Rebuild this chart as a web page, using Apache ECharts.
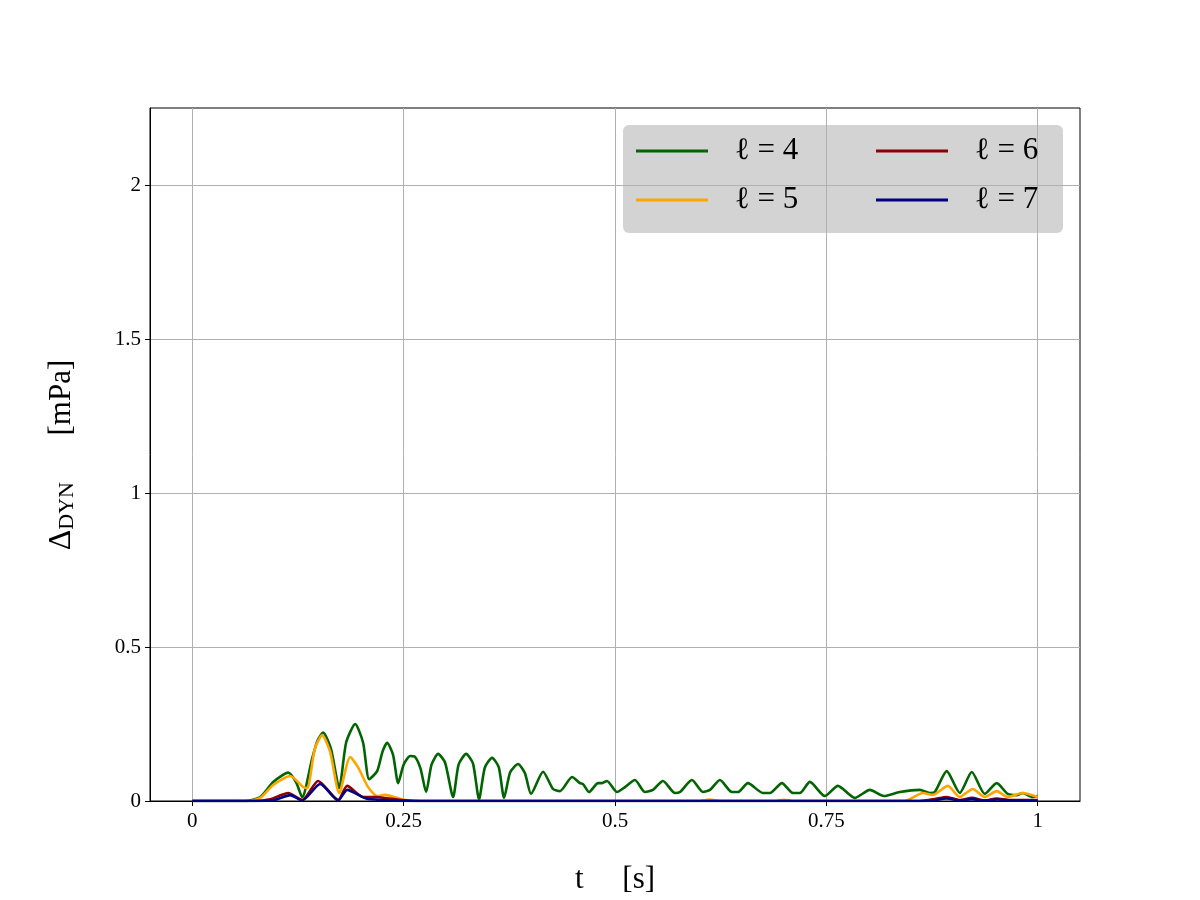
<!DOCTYPE html>
<html>
<head>
<meta charset="utf-8">
<title>Delta DYN</title>
<script src="https://cdn.jsdelivr.net/npm/echarts@6/dist/echarts.min.js"></script>
<style>
  html, body { margin: 0; padding: 0; background: #fff; }
  #chart { width: 1200px; height: 900px; }
</style>
</head>
<body>
<div id="chart"></div>
<script>
  // tick values
  const xTicks = [0, 0.25, 0.5, 0.75, 1]
  const yTicks = [0, 0.5, 1, 1.5, 2]

  // l = 4
  const t4 = [0, 0.0626, 0.0804, 0.0957, 0.1135, 0.123, 0.130, 0.142, 0.148, 0.1548, 0.164, 0.1738,
    0.182, 0.1927, 0.202, 0.2092, 0.2187, 0.225, 0.2305, 0.2375, 0.2435, 0.250, 0.2577, 0.2636, 0.270,
    0.2766, 0.283, 0.2908, 0.299, 0.3085, 0.315, 0.3239, 0.332, 0.3392, 0.346, 0.3546, 0.3625, 0.3688,
    0.376, 0.3853, 0.3935,
    0.4007, 0.4149, 0.4267, 0.435, 0.4492, 0.4586, 0.4622, 0.4693, 0.4799, 0.4846, 0.4905, 0.5024,
    0.5118, 0.5236, 0.5355, 0.5449, 0.5567, 0.5709, 0.5768, 0.591, 0.604, 0.6123, 0.6241, 0.6383,
    0.6454, 0.6572, 0.6749, 0.6832, 0.6974, 0.7104, 0.7187, 0.7305, 0.7482, 0.7636, 0.7837, 0.8014,
    0.818, 0.8369, 0.8605, 0.8723, 0.8783, 0.8924, 0.9078, 0.922, 0.9374, 0.9515, 0.9645, 0.9752,
    0.9823, 0.9941, 1.0]
  const v4 = [0, 0, 0.013, 0.062, 0.092, 0.06, 0.012, 0.140, 0.195, 0.222, 0.170, 0.042,
    0.190, 0.250, 0.190, 0.071, 0.097, 0.160, 0.189, 0.150, 0.058, 0.118, 0.146, 0.143, 0.105,
    0.029, 0.118, 0.153, 0.125, 0.013, 0.118, 0.153, 0.122, 0.006, 0.108, 0.140, 0.110, 0.010,
    0.093, 0.120, 0.090,
    0.023, 0.095, 0.039, 0.032, 0.078, 0.058, 0.055, 0.029, 0.058, 0.058, 0.065, 0.029,
    0.045, 0.068, 0.029, 0.036, 0.065, 0.026, 0.029, 0.068, 0.029, 0.036, 0.068, 0.029,
    0.029, 0.058, 0.026, 0.026, 0.058, 0.026, 0.026, 0.062, 0.016, 0.049, 0.010, 0.036,
    0.016, 0.029, 0.036, 0.026, 0.029, 0.097, 0.026, 0.094, 0.023, 0.058, 0.023, 0.019,
    0.026, 0.013, 0.016]

  // l = 5
  const t5 = [0, 0.066, 0.0804, 0.0957, 0.1158, 0.1312, 0.136, 0.145, 0.1537, 0.163, 0.1738, 0.1868,
    0.196, 0.208, 0.2187,
    0.2281, 0.24, 0.2518, 0.27, 0.60, 0.612, 0.625, 0.69, 0.70, 0.71, 0.8428, 0.8487, 0.8641,
    0.8759, 0.8936, 0.9078, 0.9232, 0.9374, 0.9515, 0.9645, 0.9823, 1.0]
  const v5 = [0, 0, 0.01, 0.052, 0.081, 0.045, 0.042, 0.170, 0.214, 0.160, 0.026, 0.143,
    0.110, 0.045, 0.016,
    0.02, 0.012, 0.003, 0, 0, 0.005, 0, 0, 0.004, 0, 0, 0.006, 0.026,
    0.02, 0.049, 0.013, 0.039, 0.013, 0.032, 0.013, 0.026, 0.013]

  // l = 6
  const t6 = [0, 0.0745, 0.0922, 0.1135, 0.130, 0.1489, 0.1726, 0.1832, 0.2021, 0.2163, 0.234, 0.2518,
    0.27, 0.86, 0.878, 0.8924, 0.9078, 0.922, 0.9374, 0.9515, 0.967, 1.0]
  const v6 = [0, 0, 0.006, 0.026, 0.003, 0.065, 0.003, 0.049, 0.013, 0.013, 0.008, 0.002,
    0, 0, 0.006, 0.013, 0.003, 0.010, 0.002, 0.008, 0.003, 0.003]

  // l = 7
  const t7 = [0, 0.08, 0.098, 0.1158, 0.130, 0.1513, 0.1726, 0.1832, 0.2057, 0.228, 0.245,
    0.87, 0.8924, 0.9078, 0.922, 0.9374, 0.9515, 0.967, 1.0]
  const v7 = [0, 0, 0.004, 0.019, 0.002, 0.055, 0.002, 0.036, 0.008, 0.003, 0,
    0, 0.008, 0.002, 0.006, 0.001, 0.005, 0.002, 0.001]

  const pairs = (t, v) => t.map((x, i) => [x, v[i]])

  const serif = 'Liberation Serif, DejaVu Serif, serif'

  const chart = echarts.init(document.getElementById('chart'), null, { renderer: 'canvas' })

  const lineSeries = (name, t, v, color) => ({
    name: name,
    type: 'line',
    data: pairs(t, v),
    showSymbol: false,
    symbol: 'none',
    smooth: 0.22,
    lineStyle: { color: color, width: 2.6 },
    itemStyle: { color: color },
    emphasis: { disabled: true },
    animation: false
  })

  const legendText = {
    fontFamily: serif,
    fontSize: 31,
    color: '#000',
    lineHeight: 34,
    padding: [0, 0, 0, 22]
  }

  const legendBase = {
    orient: 'vertical',
    top: 134,
    icon: 'rect',
    itemWidth: 72, itemHeight: 3, itemGap: 15,
    textStyle: legendText,
    padding: 0
  }

  chart.setOption({
    animation: false,
    textStyle: { fontFamily: serif },
    grid: {
      left: 150, right: 120, top: 108, bottom: 99,
      show: true, borderColor: '#000', borderWidth: 1, backgroundColor: 'transparent'
    },
    legend: [
      Object.assign({}, legendBase, { data: ['ℓ = 4', 'ℓ = 5'], left: 636 }),
      Object.assign({}, legendBase, { data: ['ℓ = 6', 'ℓ = 7'], left: 876 })
    ],
    graphic: [
      {
        type: 'rect', left: 623, top: 125, z: -1,
        shape: { width: 440, height: 108, r: 6 },
        style: { fill: '#d3d3d3' }
      },
      {
        type: 'text', x: 615, y: 880,
        style: { text: 't     [s]', font: '31px ' + serif, fill: '#000', align: 'center', verticalAlign: 'middle' }
      },
      {
        type: 'text', x: 62, y: 455, rotation: Math.PI / 2,
        style: {
          text: '{d|Δ}{s|DYN}{u|      [mPa]}',
          align: 'center', verticalAlign: 'middle', fill: '#000',
          rich: {
            d: { fontFamily: serif, fontSize: 32, fill: '#000' },
            s: { fontFamily: serif, fontSize: 22, fill: '#000', padding: [10, 0, 0, 0] },
            u: { fontFamily: serif, fontSize: 31, fill: '#000' }
          }
        }
      }
    ],
    xAxis: {
      type: 'value',
      min: -0.05, max: 1.05,
      axisLine: { show: true, onZero: false, lineStyle: { color: '#000', width: 1 } },
      axisTick: { show: true, length: 5, lineStyle: { color: '#000' }, customValues: xTicks },
      axisLabel: {
        customValues: xTicks, color: '#000', fontSize: 21, fontFamily: serif, margin: 10,
        formatter: v => String(v)
      },
      splitLine: { show: true, lineStyle: { color: '#b0b0b0', width: 1 } }
    },
    yAxis: {
      type: 'value',
      min: 0, max: 2.25,
      axisLine: { show: true, onZero: false, lineStyle: { color: '#000', width: 1 } },
      axisTick: { show: true, length: 5, lineStyle: { color: '#000' }, customValues: yTicks },
      axisLabel: {
        customValues: yTicks, color: '#000', fontSize: 21, fontFamily: serif, margin: 9,
        formatter: v => String(v)
      },
      splitLine: { show: true, lineStyle: { color: '#b0b0b0', width: 1 } }
    },
    series: [
      lineSeries('ℓ = 4', t4, v4, '#006400'),
      lineSeries('ℓ = 5', t5, v5, '#ffa500'),
      lineSeries('ℓ = 6', t6, v6, '#8b0000'),
      lineSeries('ℓ = 7', t7, v7, '#000080')
    ]
  })
</script>
</body>
</html>
